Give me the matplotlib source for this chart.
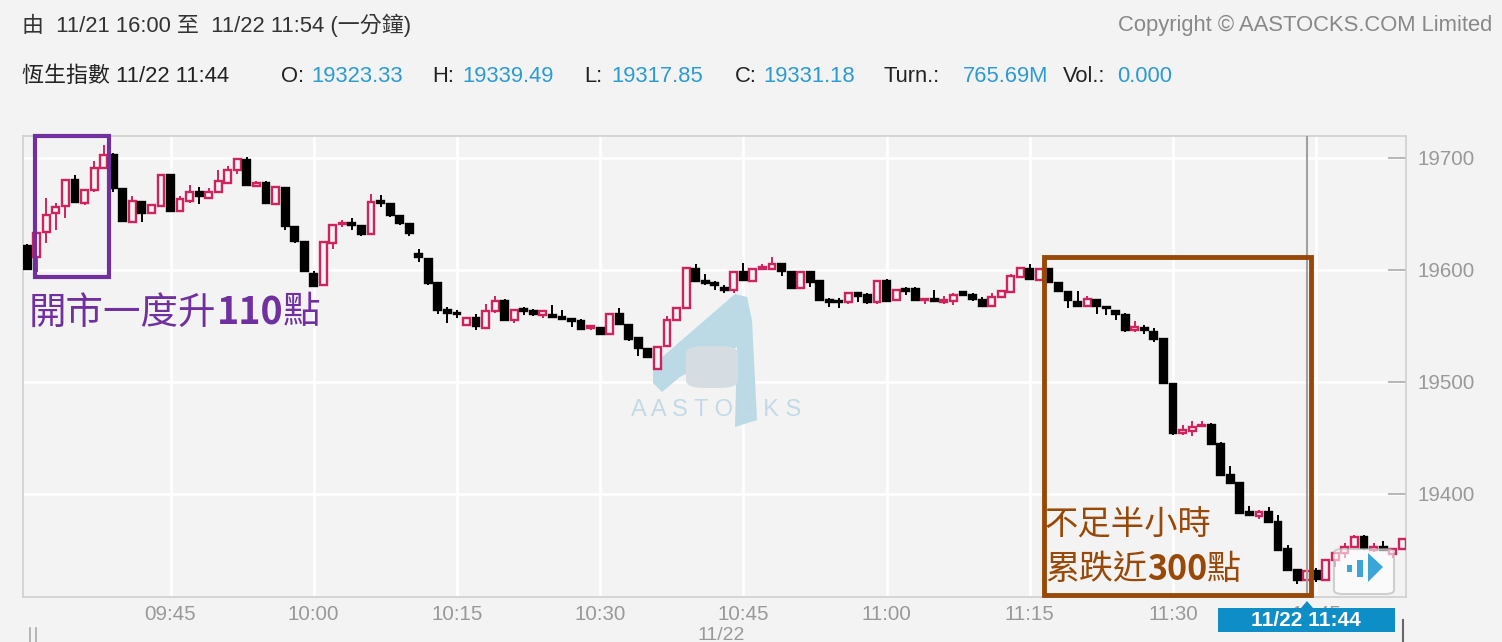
import matplotlib
matplotlib.use("Agg")
import matplotlib.pyplot as plt
from matplotlib.patches import Rectangle, Polygon, FancyBboxPatch
import numpy as np

W, H = 1502, 642
plt.rcParams['font.family'] = ['Liberation Sans', 'Noto Sans CJK TC', 'DejaVu Sans']

# ---------------- data (1-minute candles, 11/22 from 09:30) ----------------
opens = [19621, 19612, 19634, 19651, 19657, 19680, 19660, 19671, 19691, 19703,
         19672, 19643, 19661, 19651, 19657, 19685, 19653, 19662, 19670, 19664,
         19670, 19678, 19689, 19698, 19675, 19678, 19659, 19673, 19638, 19625,
         19596, 19587, 19624, 19641, 19642, 19639, 19632, 19662, 19659, 19648,
         19641, 19614, 19610, 19588, 19564, 19562, 19551, 19557, 19548, 19563,
         19572, 19555, 19565, 19563, 19560, 19560, 19558, 19556, 19554, 19548,
         19548, 19543, 19561, 19551, 19539, 19529, 19512, 19532, 19555, 19566,
         19601, 19590, 19588, 19584, 19582, 19598, 19590, 19601, 19601, 19605,
         19598, 19584, 19598, 19590, 19573, 19572, 19571, 19579, 19578, 19571,
         19590, 19573, 19583, 19583, 19573, 19574, 19571, 19572, 19580, 19578,
         19573, 19568, 19576, 19580, 19594, 19601, 19591, 19601, 19588, 19580,
         19571, 19568, 19573, 19567, 19563, 19560, 19546, 19548, 19545, 19538,
         19498, 19454, 19456, 19461, 19462, 19445, 19417, 19410, 19384, 19380,
         19384, 19375, 19351, 19332, 19323.33, 19331, 19323, 19341, 19347, 19353,
         19362, 19350, 19353, 19346, 19351]
highs = [19623, 19634, 19664, 19660, 19681, 19685, 19672, 19697, 19712, 19704,
         19673, 19666, 19662, 19659, 19686, 19686, 19666, 19676, 19674, 19673,
         19689, 19693, 19700, 19701, 19679, 19679, 19675, 19674, 19639, 19626,
         19599, 19626, 19641, 19645, 19646, 19640, 19668, 19667, 19660, 19649,
         19642, 19619, 19611, 19589, 19567, 19564, 19558, 19561, 19570, 19577,
         19574, 19565, 19567, 19565, 19564, 19569, 19564, 19556, 19556, 19551,
         19549, 19562, 19566, 19552, 19540, 19530, 19532, 19559, 19567, 19603,
         19605, 19596, 19590, 19587, 19599, 19606, 19602, 19605, 19612, 19606,
         19599, 19599, 19599, 19591, 19575, 19575, 19580, 19580, 19579, 19591,
         19592, 19583, 19585, 19585, 19574, 19582, 19577, 19579, 19581, 19579,
         19576, 19579, 19582, 19596, 19603, 19605, 19602, 19602, 19589, 19581,
         19581, 19577, 19574, 19568, 19564, 19562, 19554, 19551, 19548, 19539,
         19499, 19462, 19465, 19465, 19463, 19446, 19425, 19411, 19389, 19386,
         19388, 19381, 19354, 19333, 19339.49, 19334, 19342, 19348, 19356, 19363,
         19363, 19356, 19358, 19352, 19361]
lows = [19601, 19598, 19624, 19636, 19646, 19660, 19658, 19670, 19690, 19670,
        19643, 19643, 19643, 19650, 19656, 19652, 19652, 19660, 19659, 19663,
        19669, 19677, 19686, 19675, 19674, 19659, 19658, 19636, 19624, 19598,
        19586, 19586, 19619, 19638, 19636, 19630, 19631, 19656, 19647, 19640,
        19630, 19607, 19587, 19561, 19553, 19557, 19550, 19546, 19547, 19562,
        19554, 19553, 19560, 19559, 19557, 19557, 19555, 19549, 19546, 19546,
        19542, 19542, 19551, 19537, 19523, 19521, 19511, 19531, 19554, 19565,
        19589, 19587, 19582, 19579, 19579, 19590, 19589, 19600, 19601, 19595,
        19583, 19583, 19585, 19572, 19567, 19566, 19570, 19571, 19570, 19570,
        19571, 19572, 19578, 19572, 19570, 19571, 19570, 19569, 19578, 19572,
        19567, 19567, 19575, 19579, 19593, 19591, 19590, 19588, 19580, 19566,
        19567, 19567, 19561, 19560, 19555, 19545, 19545, 19543, 19536, 19498,
        19453, 19453, 19452, 19460, 19444, 19416, 19409, 19382, 19380, 19378,
        19374, 19349, 19331, 19320, 19317.85, 19321, 19322, 19335, 19343, 19352,
        19350, 19348, 19349, 19343, 19350]
closes = [19601, 19633, 19649, 19656, 19680, 19661, 19671, 19691, 19703, 19673,
          19644, 19662, 19651, 19658, 19685, 19653, 19663, 19670, 19666, 19670,
          19679, 19689, 19699, 19676, 19678, 19660, 19674, 19639, 19626, 19599,
          19586, 19625, 19640, 19642, 19640, 19632, 19661, 19660, 19649, 19642,
          19633, 19612, 19588, 19564, 19562, 19561, 19557, 19550, 19563, 19572,
          19555, 19564, 19563, 19561, 19563, 19558, 19556, 19554, 19547, 19550,
          19543, 19561, 19552, 19538, 19530, 19522, 19531, 19555, 19566, 19602,
          19590, 19588, 19587, 19582, 19598, 19591, 19601, 19603, 19605, 19599,
          19584, 19598, 19589, 19573, 19571, 19571, 19579, 19577, 19571, 19590,
          19572, 19582, 19581, 19573, 19574, 19572, 19573, 19578, 19578, 19574,
          19568, 19576, 19581, 19595, 19602, 19592, 19601, 19589, 19581, 19573,
          19568, 19574, 19568, 19566, 19561, 19546, 19549, 19546, 19538, 19499,
          19454, 19457, 19460, 19462, 19445, 19417, 19410, 19383, 19381, 19384,
          19375, 19350, 19332, 19323, 19331.18, 19324, 19341, 19347, 19353, 19362,
          19352, 19353, 19350, 19351, 19360]

tick_idx = [15, 30, 45, 60, 75, 90, 105, 120, 135]
tick_labels = ["09:45", "10:00", "10:15", "10:30", "10:45", "11:00", "11:15", "11:30", "11:45"]
y_ticks = [19400, 19500, 19600, 19700]
cursor_idx = 134

header1 = "由  11/21 16:00 至  11/22 11:54 (一分鐘)"
copyright_txt = "Copyright © AASTOCKS.COM Limited"
info_name = "恆生指數 11/22 11:44"
info_fields = [("O:", "19323.33"), ("H:", "19339.49"), ("L:", "19317.85"),
               ("C:", "19331.18"), ("Turn.:", "765.69M"), ("Vol.:", "0.000")]
# annotation texts split into (text, bold) pieces
note_left = [("開市一度升", False), ("110", True), ("點", False)]
note_right1 = [("不足半小時", False)]
note_right2 = [("累跌近", False), ("300", True), ("點", False)]

# ---------------- styling ----------------
BG = '#f3f3f3'
PINK = '#d1235b'
BLUE = '#2b9bd1'
GRAY = '#999999'
PURPLE = '#7030a0'
BROWN = '#984807'

def fx(x):
    return x / W

def fy(y):
    return 1 - y / H

fig = plt.figure(figsize=(W / 100, H / 100), dpi=100, facecolor=BG)
ax = fig.add_axes([fx(22.7), fy(597), (1406 - 22.7) / W, (597 - 136) / H])
ax.set_facecolor(BG)
ax.set_xlim(-0.48, 144.4)
ax.set_ylim(19308, 19719.6)

for s in ax.spines.values():
    s.set_color('#cfcfcf')
    s.set_linewidth(1.2)

ax.set_axisbelow(True)
ax.grid(True, color='white', linewidth=1.8)
ax.set_xticks(tick_idx)
ax.set_xticklabels(tick_labels)
ax.yaxis.tick_right()
ax.set_yticks(y_ticks)
ax.tick_params(axis='x', length=0, pad=6, labelsize=14.8, labelcolor=GRAY)
ax.tick_params(axis='y', direction='in', length=13, width=1.2, color='#aaaaaa',
               pad=8, labelsize=14.8, labelcolor=GRAY)

# ---------------- watermark ----------------
poly = [(653, 365), (735, 294), (747, 297), (752, 320), (757, 420), (735, 427),
        (737, 347), (680, 377), (662, 392), (653, 383)]
ax.add_patch(Polygon([(fx(a), fy(b)) for a, b in poly], closed=True,
                     transform=fig.transFigure, facecolor='#bcd9e6', edgecolor='none',
                     zorder=1))
ax.add_patch(FancyBboxPatch((fx(686), fy(388)), 52 / W, 42 / H,
                            boxstyle="round,pad=0,rounding_size=0.012",
                            transform=fig.transFigure, facecolor='#d6dde2',
                            edgecolor='none', zorder=1.1))
ax.text(fx(716), fy(410), "A A S T O C K S", color='#c3dae6', fontsize=17,
        ha='center', va='center', transform=fig.transFigure, zorder=1.2)

# ---------------- candles ----------------
w = 0.72
for i in range(len(opens)):
    o, h, l, c = opens[i], highs[i], lows[i], closes[i]
    up = c >= o
    col = PINK if up else 'black'
    lo_b, hi_b = min(o, c), max(o, c)
    if hi_b - lo_b < 1.0:
        mid = (hi_b + lo_b) / 2
        lo_b, hi_b = mid - 0.5, mid + 0.5
    ax.vlines(i, l, lo_b, color=col, linewidth=1.4, zorder=2)
    ax.vlines(i, hi_b, h, color=col, linewidth=1.4, zorder=2)
    ax.add_patch(Rectangle((i - w / 2, lo_b), w, hi_b - lo_b,
                           facecolor=BG if up else 'black', edgecolor=col,
                           linewidth=1.7, zorder=3))

# crosshair
ax.axvline(cursor_idx, color='#a0a0a0', linewidth=1.5, zorder=4)

# navigation button (semi transparent)
ax.add_patch(FancyBboxPatch((fx(1334), fy(594)), 60 / W, 45 / H,
                            boxstyle="round,pad=0,rounding_size=0.006",
                            transform=fig.transFigure, facecolor='white', alpha=0.6,
                            edgecolor='#b5b5b5', linewidth=1.5, zorder=6))
ax.add_patch(Rectangle((fx(1347), fy(572)), 5 / W, 7 / H, transform=fig.transFigure,
                       facecolor='#3ba5d8', edgecolor='none', zorder=7))
ax.add_patch(Rectangle((fx(1357), fy(577)), 6 / W, 17 / H, transform=fig.transFigure,
                       facecolor='#3ba5d8', edgecolor='none', zorder=7))
ax.add_patch(Polygon([(fx(1368), fy(553)), (fx(1368), fy(582)), (fx(1383), fy(567))],
                     closed=True, transform=fig.transFigure, facecolor='#3ba5d8',
                     edgecolor='none', zorder=7))

# ---------------- annotation boxes ----------------
fig.add_artist(Rectangle((fx(35), fy(277)), (109 - 35) / W, (277 - 136) / H,
                         transform=fig.transFigure, fill=False, edgecolor=PURPLE,
                         linewidth=3, zorder=8))
fig.add_artist(Rectangle((fx(1044), fy(595)), (1311 - 1044) / W, (595 - 257) / H,
                         transform=fig.transFigure, fill=False, edgecolor=BROWN,
                         linewidth=3.5, zorder=8))

renderer = fig.canvas.get_renderer()

def rich_text(x_px, y_px, pieces, color, size):
    x = x_px
    for txt, bold in pieces:
        t = fig.text(fx(x), fy(y_px), txt, color=color, fontsize=size,
                     family=['Noto Sans CJK TC'], fontweight='bold' if bold else 'normal',
                     ha='left', va='center', zorder=9)
        bb = t.get_window_extent(renderer=renderer)
        x += bb.width

rich_text(29, 313, note_left, PURPLE, 27)
rich_text(1045, 524, note_right1, BROWN, 24)
rich_text(1045, 569, note_right2, BROWN, 24.5)

# ---------------- cursor label ----------------
fig.add_artist(Rectangle((fx(1218), fy(632)), (1395 - 1218) / W, 24 / H,
                         transform=fig.transFigure, facecolor='#0e8ec6',
                         edgecolor='none', zorder=10))
fig.add_artist(Polygon([(fx(1301), fy(608)), (fx(1313), fy(608)), (fx(1307), fy(601))],
                       closed=True, transform=fig.transFigure, facecolor='#0e8ec6',
                       edgecolor='none', zorder=10))
fig.text(fx(1306), fy(620), "11/22 11:44", color='white', fontsize=15,
         fontweight='bold', ha='center', va='center', zorder=11)

# bottom extras
fig.text(fx(721), fy(636), "11/22", color=GRAY, fontsize=14, ha='center', va='center')
for xx in (30, 36):
    fig.add_artist(plt.Line2D([fx(xx), fx(xx)], [fy(628), fy(642)], color='#aaaaaa',
                              linewidth=1.2, transform=fig.transFigure))
fig.add_artist(plt.Line2D([fx(1403), fx(1403)], [fy(620), fy(642)], color='#666666',
                          linewidth=1.5, transform=fig.transFigure))

# ---------------- header ----------------
hs = 15.8
fig.text(fx(22), fy(25), header1, color='#333333', fontsize=hs, ha='left', va='center')
fig.text(fx(1492), fy(25), copyright_txt, color='#888888', fontsize=hs, ha='right', va='center')
fig.text(fx(22), fy(76), info_name, color='#222222', fontsize=hs, ha='left', va='center')
label_x = [281, 432, 584, 735, 884, 1063]
value_x = [311, 462, 611, 763, 963, 1117]
for (lab, val), lx, vx in zip(info_fields, label_x, value_x):
    fig.text(fx(lx), fy(76), lab, color='#222222', fontsize=hs, ha='left', va='center')
    fig.text(fx(vx), fy(76), val, color=BLUE, fontsize=hs, ha='left', va='center')

fig.savefig("out.png", dpi=100, facecolor=BG)
